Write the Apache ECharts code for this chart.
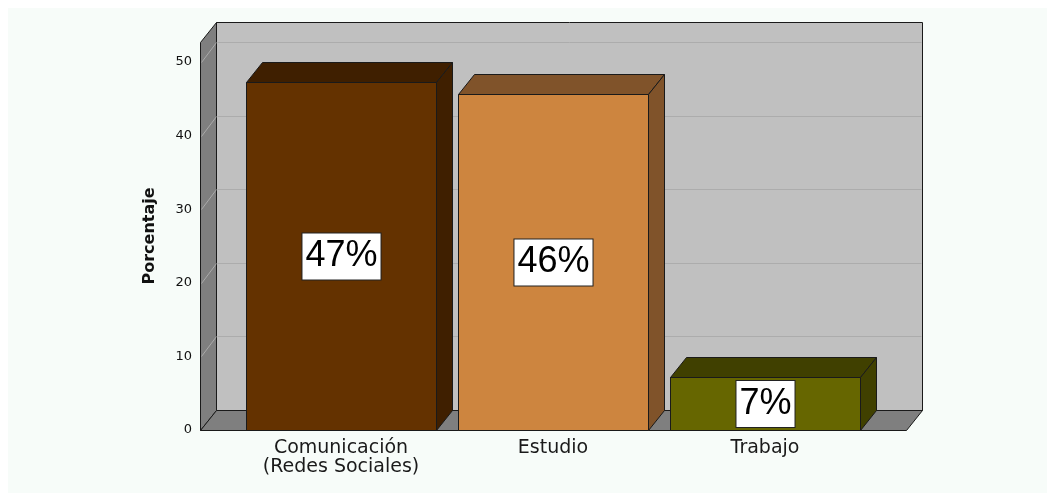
<!DOCTYPE html>
<html>
<head>
<meta charset="utf-8">
<script src="https://cdn.jsdelivr.net/npm/echarts@6.0.0/dist/echarts.min.js"></script>
<style>
html,body{margin:0;padding:0;background:#ffffff;}
#c{position:absolute;left:8px;top:8px;width:1039px;height:485px;}
</style>
</head>
<body>
<div id="c"></div>
<script>
// ---- data ----
const categories = ['Comunicación\n(Redes Sociales)', 'Estudio', 'Trabajo'];
const values = [47.2, 45.6, 7.2];
const yTicks = [0, 10, 20, 30, 40, 50];
const frontColors = ['#643200', '#cd853f', '#666600'];
const shadeColors = ['#3f1f00', '#80532a', '#404000'];

// ---- layout / style ----
const G = { left: 227, right: 176, top: 34, bottom: 63 };
const CW = 1039, CH = 485;
const PAD = 35, DX = 16, DY = -20;
const BAR_RATIO = 0.896;
const EDGE = '#1a1a1a';

const chart = echarts.init(document.getElementById('c'), null, { renderer: 'canvas' });

function renderBar(params, api) {
  const i = api.value(0), v = api.value(1);
  const top = api.coord([i, v]);
  const base = api.coord([i, 0]);
  const band = api.size([1, 0])[0];
  const bw = Math.round(band * BAR_RATIO);
  const x1 = Math.round(top[0] - bw / 2) + 0.5, x2 = x1 + bw;
  const yt = Math.round(top[1]) + 0.5, yb = Math.round(base[1]) + 0.5;
  const shade = shadeColors[i], front = frontColors[i];
  const st = { stroke: EDGE, lineWidth: 1 };
  return {
    type: 'group',
    children: [
      { type: 'polygon', shape: { points: [[x1, yt], [x1 + DX, yt + DY], [x2 + DX, yt + DY], [x2, yt]] }, style: Object.assign({ fill: shade }, st) },
      { type: 'polygon', shape: { points: [[x2, yt], [x2 + DX, yt + DY], [x2 + DX, yb + DY], [x2, yb]] }, style: Object.assign({ fill: shade }, st) },
      { type: 'rect', shape: { x: x1, y: yt, width: bw, height: yb - yt }, style: Object.assign({ fill: front }, st) },
      { type: 'text', x: (x1 + x2) / 2, y: (yt + yb) / 2, z2: 10,
        style: { text: Math.round(v) + '%', fontFamily: 'Liberation Sans', fontSize: 36, fill: '#000',
          align: 'center', verticalAlign: 'middle', backgroundColor: '#ffffff', borderColor: '#222', borderWidth: 1,
          padding: [6, 3, 4, 3] } }
    ]
  };
}

const option = {
  backgroundColor: '#f7fcf9',
  animation: false,
  grid: { left: G.left, right: G.right, top: G.top, bottom: G.bottom },
  xAxis: {
    type: 'category', data: categories,
    axisLine: { show: false }, axisTick: { show: false }, splitLine: { show: false },
    axisLabel: { interval: 0, margin: 9, fontFamily: 'DejaVu Sans', fontSize: 19, lineHeight: 19, color: '#1a1a1a' }
  },
  yAxis: {
    type: 'value', min: 0, max: 52.7, interval: 10,
    axisLine: { show: false }, axisTick: { show: false }, splitLine: { show: false },
    axisLabel: { margin: 43, fontFamily: 'DejaVu Sans', fontSize: 13, color: '#111',
      formatter: v => (yTicks.indexOf(v) >= 0 ? String(v) : '') },
    name: 'Porcentaje', nameLocation: 'middle', nameGap: 77,
    nameTextStyle: { fontFamily: 'DejaVu Sans', fontWeight: 'bold', fontSize: 16, color: '#111' }
  },
  series: [{
    type: 'custom', z: 5,
    data: values.map((v, i) => [i, v]),
    encode: { x: 0, y: 1 },
    renderItem: renderBar
  }]
};
chart.setOption(option);

// ---- 3D frame drawn from axis scale ----
const y0 = Math.round(chart.convertToPixel({ yAxisIndex: 0 }, 0)) + 0.5;
const yT = G.top + 0.5;
const xL = G.left - PAD + 0.5, xR = CW - G.right + PAD + 0.5;
const els = [];
els.push({ type: 'rect', z: 1, shape: { x: xL + DX, y: yT + DY, width: xR - xL, height: y0 - yT }, style: { fill: '#c0c0c0', stroke: EDGE, lineWidth: 1 } });
yTicks.filter(t => t > 0).forEach(t => {
  const y = Math.round(chart.convertToPixel({ yAxisIndex: 0 }, t)) + 0.5;
  els.push({ type: 'line', z: 1, shape: { x1: xL + DX + 1, y1: y + DY, x2: xR + DX - 1, y2: y + DY }, style: { stroke: '#acacac', lineWidth: 1 } });
});
els.push({ type: 'polygon', z: 1, shape: { points: [[xL, yT], [xL + DX, yT + DY], [xL + DX, y0 + DY], [xL, y0]] }, style: { fill: '#7f7f7f', stroke: EDGE, lineWidth: 1 } });
yTicks.filter(t => t > 0).forEach(t => {
  const y = Math.round(chart.convertToPixel({ yAxisIndex: 0 }, t)) + 0.5;
  els.push({ type: 'line', z: 1, shape: { x1: xL + 1, y1: y, x2: xL + DX, y2: y + DY }, style: { stroke: '#a9a9a9', lineWidth: 1 } });
});
els.push({ type: 'polygon', z: 1, shape: { points: [[xL, y0], [xL + DX, y0 + DY], [xR + DX, y0 + DY], [xR, y0]] }, style: { fill: '#7f7f7f', stroke: EDGE, lineWidth: 1 } });
chart.setOption({ graphic: { elements: els } });
</script>
</body>
</html>
